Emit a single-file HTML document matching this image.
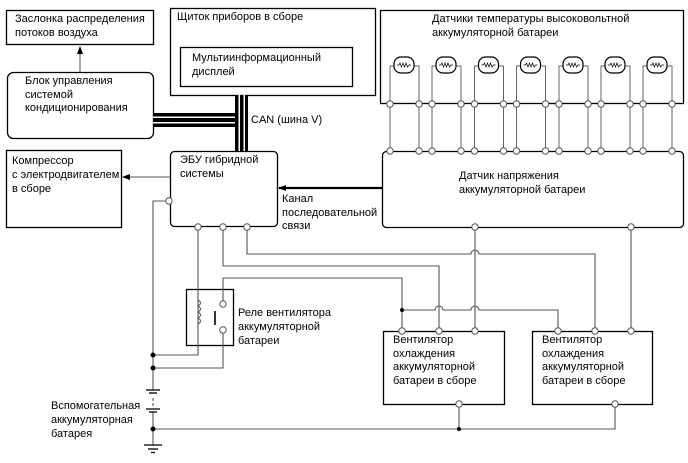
<!DOCTYPE html>
<html><head><meta charset="utf-8"><style>
html,body{margin:0;padding:0;background:#fff;}
svg{display:block;}
text{font-family:"Liberation Sans",Arial,sans-serif;font-size:11px;fill:#000;}
</style></head><body>
<svg width="688" height="463" viewBox="0 0 688 463" xmlns="http://www.w3.org/2000/svg">
<defs><marker id="ar" markerWidth="8" markerHeight="6" refX="7" refY="3" orient="auto" markerUnits="userSpaceOnUse"><path d="M0,0 L8,3 L0,6 z" fill="#000"/></marker></defs>
<g fill="none" stroke="#000" stroke-width="1.3">
<rect x="6.5" y="10.5" width="147" height="34"/>
<rect x="7.5" y="72.5" width="146" height="66" rx="6"/>
<rect x="170.5" y="8.5" width="205" height="87"/>
<rect x="180.5" y="47.5" width="172" height="39"/>
<rect x="380.5" y="10.5" width="303" height="93"/>
<rect x="382.5" y="151.5" width="301" height="76" rx="4"/>
<rect x="170.5" y="151.5" width="107" height="75" rx="4"/>
<rect x="6.5" y="150.5" width="115" height="77"/>
<rect x="186.5" y="289.5" width="47" height="56"/>
<rect x="383.5" y="331.5" width="121" height="73"/>
<rect x="532.5" y="331.5" width="120" height="73"/>
</g>
<!-- arrows -->
<g stroke="#555" stroke-width="1">
<line x1="80" y1="72" x2="80" y2="47" marker-end="url(#ar)"/>
<line x1="170" y1="177" x2="123" y2="177" marker-end="url(#ar)"/>
</g>
<line x1="382" y1="188" x2="279" y2="188" stroke="#000" stroke-width="2.2" marker-end="url(#ar)"/>
<!-- CAN -->
<rect x="153" y="113" width="88" height="14" fill="#000"/>
<rect x="153" y="116.5" width="84" height="1.5" fill="#fff"/>
<rect x="153" y="122" width="84" height="1.5" fill="#fff"/>
<rect x="235" y="95" width="13" height="56" fill="#000"/>
<rect x="238.5" y="95" width="1.5" height="56" fill="#fff"/>
<rect x="243.5" y="95" width="1.5" height="56" fill="#fff"/>
<!-- sensors -->
<g fill="none" stroke="#666" stroke-width="1">
<g id="s">
<path d="M390,104 V66 H394 M414,66 H419 V104"/>
<path d="M390,104 V151 M419,104 V151"/>
<rect x="394" y="57" width="20" height="16" rx="7" stroke="#000" stroke-width="1.2"/>
<path d="M397,65 H399 L400,63 L401.5,67 L403,63 L404.5,67 L406,63 L407.5,67 L409,65 H411" stroke="#000" stroke-width="0.7"/>
</g>
<use href="#s" x="42"/><use href="#s" x="84.5"/><use href="#s" x="126.5"/><use href="#s" x="169"/><use href="#s" x="211"/><use href="#s" x="253"/>
</g>
<g fill="#fff" stroke="#555" stroke-width="1">
<g id="c"><circle cx="390" cy="104" r="3.2"/><circle cx="419" cy="104" r="3.2"/><circle cx="390" cy="151" r="3.2"/><circle cx="419" cy="151" r="3.2"/></g>
<use href="#c" x="42"/><use href="#c" x="84.5"/><use href="#c" x="126.5"/><use href="#c" x="169"/><use href="#c" x="211"/><use href="#c" x="253"/>
</g>
<!-- wiring -->
<g fill="none" stroke="#555" stroke-width="1.1">
<path d="M169,201 H153 V390"/>
<path d="M153,412 V445"/>
<path d="M153,398 V406" stroke-dasharray="3,2"/>
<path d="M198,227 V355 H153"/>
<path d="M223,304 V278 H402 V331"/>
<path d="M223,330 V368 H153"/>
<path d="M223,227 V266 H439 V331"/>
<path d="M247,227 V254 H471 A4,4 0 0 1 479,254 H595 V331"/>
<path d="M402,310 H435 A4,4 0 0 1 443,310 H471 A4,4 0 0 1 479,310 H558 V331"/>
<path d="M475,227 V331"/>
<path d="M631,227 V331"/>
<path d="M153,429 H615 V404 M459,404 V429"/>
<path d="M198,300 Q203,303 198,306 Q203,309 198,312 Q203,315 198,318 Q203,321 198,324"/>
<path d="M215,311 V325" stroke="#000" stroke-width="1.6"/>
</g>
<g stroke="#000" stroke-width="1.3">
<line x1="146" y1="390" x2="160" y2="390"/><line x1="149" y1="393" x2="157" y2="393"/>
<line x1="146" y1="409" x2="160" y2="409"/><line x1="149" y1="412" x2="157" y2="412"/>
<line x1="144" y1="445" x2="162" y2="445"/><line x1="148" y1="449" x2="158" y2="449"/><line x1="151" y1="452.5" x2="155" y2="452.5"/>
</g>
<g fill="#000"><circle cx="153" cy="355" r="2.5"/><circle cx="153" cy="368" r="2.5"/><circle cx="153" cy="429" r="2.5"/><circle cx="459" cy="429" r="2"/><circle cx="402" cy="310" r="2"/></g>
<g fill="#fff" stroke="#555" stroke-width="1">
<circle cx="169" cy="201" r="3.2"/><circle cx="198" cy="227" r="3.2"/><circle cx="223" cy="227" r="3.2"/><circle cx="247" cy="227" r="3.2"/>
<circle cx="223" cy="304" r="3.2"/><circle cx="223" cy="330" r="3.2"/>
<circle cx="475" cy="227" r="3.2"/><circle cx="631" cy="227" r="3.2"/>
<circle cx="402" cy="331" r="3.2"/><circle cx="439" cy="331" r="3.2"/><circle cx="475" cy="331" r="3.2"/>
<circle cx="558" cy="331" r="3.2"/><circle cx="595" cy="331" r="3.2"/><circle cx="631" cy="331" r="3.2"/>
<circle cx="459" cy="404" r="3.2"/><circle cx="615" cy="404" r="3.2"/>
</g>
<!-- labels -->
<text x="15" y="22">Заслонка распределения</text><text x="15" y="36">потоков воздуха</text>
<text x="25" y="84">Блок управления</text><text x="25" y="98">системой</text><text x="25" y="111">кондиционирования</text>
<text x="177" y="20">Щиток приборов в сборе</text>
<text x="192" y="61">Мультиинформационный</text><text x="192" y="75">дисплей</text>
<text x="251" y="123">CAN (шина V)</text>
<text x="180" y="163">ЭБУ гибридной</text><text x="180" y="177">системы</text>
<text x="12" y="164">Компрессор</text><text x="12" y="178">с электродвигателем</text><text x="12" y="192">в сборе</text>
<text x="282" y="202">Канал</text><text x="282" y="216">последовательной</text><text x="282" y="229">связи</text>
<text x="432" y="22">Датчики температуры высоковольтной</text><text x="432" y="36">аккумуляторной батареи</text>
<text x="459" y="179">Датчик напряжения</text><text x="459" y="193">аккумуляторной батареи</text>
<text x="238" y="316">Реле вентилятора</text><text x="238" y="330">аккумуляторной</text><text x="238" y="344">батареи</text>
<text x="393" y="343">Вентилятор</text><text x="393" y="357">охлаждения</text><text x="393" y="370">аккумуляторной</text><text x="393" y="384">батареи в сборе</text>
<text x="542" y="343">Вентилятор</text><text x="542" y="357">охлаждения</text><text x="542" y="370">аккумуляторной</text><text x="542" y="384">батареи в сборе</text>
<text x="51" y="409">Вспомогательная</text><text x="51" y="423">аккумуляторная</text><text x="51" y="437">батарея</text>
</g>
</svg>
</body></html>
